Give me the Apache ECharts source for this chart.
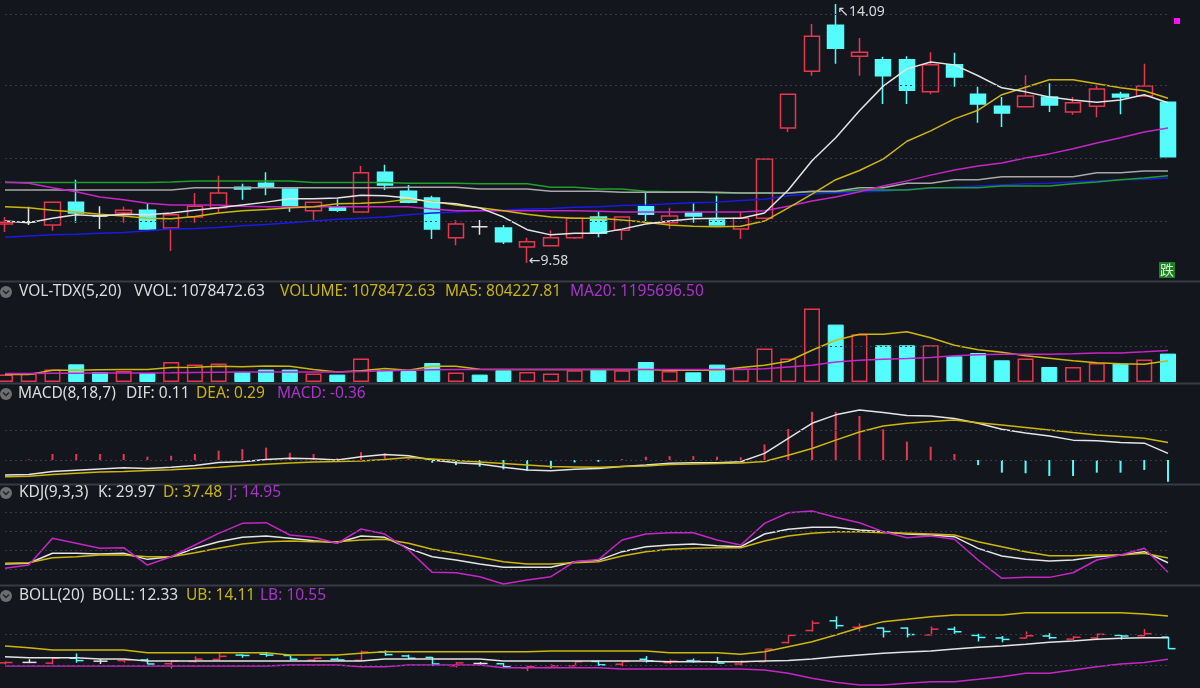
<!DOCTYPE html>
<html><head><meta charset="utf-8">
<script src="https://cdn.jsdelivr.net/npm/echarts@6/dist/echarts.min.js"></script>
<style>html,body{margin:0;padding:0;background:#14161e;}#c{width:1200px;height:688px;}</style>
</head><body><div id="c"></div>
<script>
// ---------------- DATA ----------------
const categories = ['1','2','3','4','5','6','7','8','9','10','11','12','13','14','15','16','17','18','19','20','21','22','23','24','25','26','27','28','29','30','31','32','33','34','35','36','37','38','39','40','41','42','43','44','45','46','47','48','49','50'];
const opens  = [10.26,10.30,10.24,10.64,10.40,10.45,10.50,10.19,10.38,10.54,10.90,10.97,10.87,10.49,10.56,10.47,11.16,10.83,10.71,10.02,10.21,10.19,9.86,9.88,10.02,10.38,10.15,10.56,10.28,10.45,10.33,10.17,10.36,11.93,12.92,13.72,13.18,13.12,13.12,12.56,13.03,12.52,12.31,12.30,12.47,12.21,12.31,12.52,12.49,12.38];
const closes = [10.29,10.30,10.64,10.45,10.40,10.50,10.17,10.42,10.57,10.80,10.87,10.90,10.56,10.64,10.50,11.15,10.94,10.64,10.17,10.26,10.21,9.95,9.95,10.02,10.36,10.10,10.38,10.43,10.40,10.40,10.24,10.36,11.39,12.52,13.53,13.32,13.25,12.84,12.59,13.03,12.82,12.35,12.19,12.49,12.33,12.37,12.61,12.47,12.66,11.43];
const lows   = [10.12,10.24,10.14,10.28,10.17,10.28,10.16,9.79,10.28,10.45,10.68,10.76,10.47,10.33,10.47,10.46,10.85,10.62,10.00,9.89,10.07,9.91,9.58,9.88,10.00,10.03,9.98,10.28,10.17,10.28,10.24,10.00,10.35,11.86,12.84,13.05,12.84,12.35,12.35,12.52,12.65,12.02,11.95,12.29,12.21,12.16,12.12,12.17,12.47,11.42];
const highs  = [10.38,10.56,10.65,11.03,10.57,10.56,10.62,10.43,10.80,11.10,10.96,11.16,10.88,10.65,10.69,11.27,11.29,10.94,10.75,10.33,10.33,10.24,10.02,10.15,10.37,10.47,10.39,10.82,10.54,10.62,10.75,10.47,11.40,12.53,13.74,14.09,13.50,13.17,13.18,13.25,13.24,12.65,12.47,12.85,12.71,12.47,12.68,12.56,13.05,12.39];

const priceMA5  = [10.31,10.28,10.36,10.42,10.40,10.43,10.42,10.45,10.50,10.54,10.59,10.64,10.70,10.70,10.71,10.76,10.75,10.71,10.64,10.61,10.54,10.38,10.16,10.07,10.10,10.10,10.17,10.26,10.31,10.35,10.36,10.36,10.45,10.85,11.36,11.76,12.23,12.66,12.96,13.08,13.03,12.84,12.63,12.56,12.47,12.42,12.38,12.42,12.51,12.37];
const priceMA10 = [10.56,10.54,10.50,10.47,10.43,10.40,10.36,10.35,10.39,10.45,10.49,10.51,10.54,10.56,10.61,10.62,10.64,10.69,10.65,10.59,10.54,10.49,10.43,10.38,10.36,10.36,10.33,10.29,10.24,10.22,10.21,10.22,10.31,10.54,10.78,11.03,11.19,11.39,11.70,11.88,12.09,12.24,12.51,12.64,12.77,12.77,12.70,12.63,12.58,12.45];
const priceMA20 = [10.99,10.97,10.89,10.82,10.73,10.68,10.62,10.59,10.59,10.59,10.57,10.56,10.56,10.56,10.56,10.56,10.56,10.56,10.52,10.49,10.49,10.49,10.49,10.49,10.49,10.48,10.47,10.47,10.47,10.47,10.47,10.47,10.49,10.57,10.66,10.73,10.82,10.92,11.01,11.11,11.20,11.27,11.32,11.41,11.48,11.57,11.67,11.76,11.86,11.93];
const priceMAGray  = [10.85,10.85,10.85,10.85,10.85,10.85,10.85,10.85,10.89,10.89,10.89,10.89,10.89,10.89,10.89,10.89,10.89,10.90,10.90,10.90,10.87,10.87,10.87,10.83,10.83,10.83,10.81,10.81,10.81,10.81,10.81,10.80,10.80,10.80,10.83,10.83,10.89,10.89,10.97,10.97,11.03,11.03,11.08,11.08,11.08,11.08,11.15,11.15,11.18,11.18];
const priceMAGreen = [10.98,10.98,10.98,10.98,10.98,10.98,10.98,10.99,11.01,11.01,11.01,11.01,11.01,10.98,10.98,10.98,10.98,10.97,10.97,10.97,10.96,10.96,10.96,10.90,10.90,10.87,10.87,10.83,10.82,10.82,10.80,10.80,10.80,10.80,10.82,10.82,10.85,10.85,10.85,10.89,10.89,10.89,10.92,10.92,10.92,10.96,10.99,11.03,11.06,11.10];
const priceMABlue  = [10.03,10.05,10.07,10.08,10.10,10.11,10.14,10.17,10.18,10.20,10.23,10.25,10.28,10.31,10.34,10.36,10.38,10.42,10.45,10.47,10.49,10.50,10.52,10.53,10.55,10.56,10.58,10.59,10.61,10.63,10.64,10.67,10.69,10.75,10.78,10.80,10.82,10.83,10.86,10.88,10.90,10.92,10.94,10.96,10.97,10.99,11.01,11.03,11.04,11.06];

const volumes = [281000,319000,471000,672000,380000,418000,342000,760000,661000,699000,380000,471000,471000,319000,281000,889000,444000,418000,722000,357000,281000,444000,380000,319000,444000,471000,444000,760000,418000,368000,661000,509000,1268000,889000,2787000,2180000,1811000,1394000,1394000,1394000,976000,1101000,824000,889000,570000,570000,722000,699000,851000,1078472.63];
const volMA5  = [281000,281000,444000,444000,463000,471000,471000,547000,558000,596000,577000,608000,596000,471000,380000,425000,509000,444000,596000,596000,482000,471000,471000,471000,471000,471000,471000,471000,444000,444000,444000,547000,634000,786000,1204000,1584000,1811000,1811000,1906000,1678000,1394000,1223000,1128000,995000,900000,805000,729000,691000,672000,804227.81];
const volMA20 = [319000,319000,330000,330000,342000,342000,342000,349000,357000,368000,380000,380000,380000,380000,380000,395000,425000,444000,463000,471000,471000,471000,471000,471000,471000,471000,471000,471000,471000,471000,471000,471000,501000,570000,634000,760000,824000,862000,889000,927000,995000,1033000,1052000,1052000,1052000,1071000,1101000,1101000,1147000,1195696.50];

const dif  = [-0.25,-0.24,-0.19,-0.17,-0.15,-0.13,-0.14,-0.12,-0.09,-0.04,-0.03,0.01,0.03,0.02,0.00,0.055,0.09,0.07,0.00,-0.045,-0.065,-0.12,-0.165,-0.18,-0.155,-0.14,-0.11,-0.085,-0.055,-0.045,-0.045,-0.03,0.11,0.36,0.61,0.75,0.83,0.79,0.74,0.73,0.69,0.61,0.51,0.45,0.40,0.33,0.32,0.29,0.28,0.11];
const dea  = [-0.28,-0.27,-0.24,-0.22,-0.20,-0.19,-0.175,-0.16,-0.14,-0.12,-0.09,-0.07,-0.05,-0.035,-0.025,-0.015,0.01,0.04,0.015,-0.01,-0.035,-0.06,-0.085,-0.11,-0.115,-0.12,-0.11,-0.10,-0.075,-0.065,-0.06,-0.05,-0.025,0.08,0.19,0.33,0.465,0.565,0.61,0.64,0.665,0.62,0.58,0.54,0.50,0.455,0.415,0.39,0.36,0.29];
const macd = [0,0.01,0.10,0.10,0.10,0.10,0.055,0.07,0.10,0.155,0.18,0.205,0.12,0.10,0.03,0.13,0.11,0.02,-0.045,-0.085,-0.11,-0.155,-0.18,-0.14,-0.04,-0.03,0.015,0.055,0.065,0.065,0.055,0.045,0.26,0.515,0.80,0.80,0.73,0.51,0.305,0.22,0.10,-0.085,-0.21,-0.22,-0.265,-0.265,-0.21,-0.21,-0.165,-0.36];

const kdjK = [28.0,29.1,44.8,44.8,43.7,44.8,35.3,39.5,52.6,63.1,69.9,72.0,68.3,64.6,61.5,72.0,69.9,52.6,39.5,34.3,28.0,22.8,22.8,22.8,31.7,33.7,47.4,55.2,57.9,59.4,56.8,55.2,75.1,82.5,85.6,85.6,81.4,78.8,75.1,73.6,70.9,52.6,40.6,35.3,32.7,34.3,39.5,42.1,47.4,29.97];
const kdjD = [29.1,30.1,37.9,39.5,42.1,42.1,39.5,39.5,45.8,52.6,59.4,63.1,64.1,63.1,63.1,65.7,66.8,60.5,51.1,44.8,38.5,31.7,28.0,28.0,30.1,31.7,40.6,47.4,51.1,52.6,53.6,53.6,64.1,72.0,76.2,78.8,78.8,77.2,76.2,75.1,73.6,63.1,55.2,47.4,41.0,41.0,42.1,42.1,44.8,37.48];
const kdjJ = [21.2,26.4,68.3,60.5,52.6,53.6,26.4,39.5,57.9,76.2,91.9,92.9,73.6,69.9,60.5,83.0,75.1,50.0,14.9,14.3,8.1,-3.4,2.9,8.1,31.7,35.0,65.7,75.1,77.2,77.2,65.7,57.9,91.9,108.6,111.3,101.3,92.9,78.8,69.3,72.0,66.8,34.3,5.5,7.0,7.0,14.3,34.3,42.1,52.6,14.95];

const bollUB  = [11.65,11.51,11.32,11.32,11.32,11.32,11.10,11.10,11.10,11.10,11.10,11.10,10.91,10.91,10.91,11.05,11.18,11.18,11.18,11.18,11.18,11.18,11.18,11.24,11.24,11.24,11.24,11.24,11.10,11.10,11.10,10.97,11.18,11.59,12.00,12.55,13.15,13.65,13.84,14.06,14.20,14.20,14.20,14.385,14.385,14.385,14.385,14.385,14.28,14.11];
const bollMID = [10.77,10.69,10.69,10.69,10.58,10.58,10.41,10.41,10.41,10.41,10.41,10.41,10.41,10.41,10.41,10.41,10.58,10.58,10.58,10.58,10.58,10.41,10.41,10.41,10.41,10.41,10.41,10.41,10.36,10.36,10.36,10.36,10.41,10.45,10.58,10.77,10.91,11.05,11.15,11.24,11.40,11.54,11.65,11.79,11.95,12.06,12.20,12.28,12.33,12.33];
const bollLB  = [10.0,10.0,10.0,10.0,10.0,10.0,10.0,10.0,10.0,10.0,10.0,10.0,10.09,10.09,10.09,9.95,9.95,10.09,10.09,10.09,10.09,9.86,9.86,9.86,9.86,9.86,9.76,9.76,9.76,9.76,9.76,9.76,9.67,9.40,8.99,8.66,8.44,8.44,8.58,8.71,8.71,8.91,9.12,9.40,9.40,9.67,9.95,10.17,10.30,10.55];

// reference (dotted) levels per panel
const mainLevels = [13.916, 12.672, 11.403, 10.312];
const volLevels  = [1367000];
const macdLevels = [0.487, 0];
const kdjLevels  = [110, 80, 50, 20];
const bollLevels = [12.61, 10.09];

// ---------------- STYLE ----------------
const BG='#14161e', RED='#e8364e', CYAN='#54fcfc', WHITE='#e4e4e4', YEL='#cdb70c', MAG='#c626c6',
      GRN='#1f9f2a', GRY='#a8a8a8', BLU='#1a1ae6', TXTW='#dcdcdc', TXTY='#c8b40a', TXTM='#a834c8';
const FONT = '"Noto Sans", "DejaVu Sans", sans-serif';
const N = categories.length;

// direction of each day: 1 up, -1 down, 0 doji
const dir = opens.map((o,i)=> closes[i]>o ? 1 : closes[i]<o ? -1 : 0);
const volDir = dir.map((d,i)=> d!==0 ? d : (i>0 && closes[i] >= closes[i-1] ? 1 : -1));

const candleData = opens.map((o,i)=>{
  const item = {value:[o, closes[i], lows[i], highs[i]]};
  if (dir[i]===0) item.itemStyle = {color:WHITE,color0:WHITE,borderColor:WHITE,borderColor0:WHITE};
  return item;
});
const volData = volumes.map((v,i)=> volDir[i]>0
  ? {value:v, itemStyle:{color:BG, borderColor:RED, borderWidth:1.5}}
  : {value:v, itemStyle:{color:CYAN, borderColor:CYAN, borderWidth:1}});
const macdData = macd.map(v=>({value:v, itemStyle:{color: v>=0 ? RED : CYAN}}));
const ohlcData = opens.map((o,i)=>[i, o, closes[i], lows[i], highs[i], dir[i]]);

const hiIdx = highs.indexOf(Math.max(...highs));
const loIdx = lows.indexOf(Math.min(...lows));

function levels(arr){
  return {silent:true, symbol:'none', animation:false, label:{show:false},
    lineStyle:{color:'#353a46', type:[2,3], width:1}, data: arr.map(v=>({yAxis:v}))};
}
function line(name, data, color, gi, extra){
  return Object.assign({name, type:'line', data, xAxisIndex:gi, yAxisIndex:gi, symbol:'none', showSymbol:false,
    clip:false, silent:true, lineStyle:{color, width:1.5}, itemStyle:{color}}, extra||{});
}

const grids = [
  {left:5, right:32, top:0,   height:280},
  {left:5, right:32, top:300, height:82},
  {left:5, right:32, top:405, height:78},
  {left:5, right:32, top:500, height:85},
  {left:5, right:32, top:605, height:83}
];
const yRanges = [[9.284,14.1596],[0,3113950],[-0.3821,0.9136],[-4.985,128.55],[8.195,15.018]];

// header texts
const hdrs = [
  [292, [[19,'VOL-TDX(5,20)',TXTW],[134,'VVOL: '+volumes[N-1].toFixed(2),TXTW],[280,'VOLUME: '+volumes[N-1].toFixed(2),TXTY],[445,'MA5: '+volMA5[N-1].toFixed(2),TXTY],[570,'MA20: '+volMA20[N-1].toFixed(2),TXTM]]],
  [394, [[18,'MACD(8,18,7)',TXTW],[126,'DIF: '+dif[N-1].toFixed(2),TXTW],[196,'DEA: '+dea[N-1].toFixed(2),TXTY],[277,'MACD: '+macd[N-1].toFixed(2),TXTM]]],
  [493, [[19,'KDJ(9,3,3)',TXTW],[98,'K: '+kdjK[N-1].toFixed(2),TXTW],[163,'D: '+kdjD[N-1].toFixed(2),TXTY],[229,'J: '+kdjJ[N-1].toFixed(2),TXTM]]],
  [596, [[19,'BOLL(20)',TXTW],[92,'BOLL: '+bollMID[N-1].toFixed(2),TXTW],[186,'UB: '+bollUB[N-1].toFixed(2),TXTY],[260,'LB: '+bollLB[N-1].toFixed(2),TXTM]]]
];
const graphic = [];
[281.5, 383.5, 484.5, 585.5].forEach(y=>{
  graphic.push({type:'line', shape:{x1:0,y1:y,x2:1200,y2:y}, style:{stroke:'#383b44', lineWidth:2}, silent:true});
});
hdrs.forEach(([y, items])=>{
  graphic.push({type:'circle', shape:{cx:6, cy:y, r:6}, style:{fill:'#6e6e72'}, silent:true});
  graphic.push({type:'polyline', shape:{points:[[3,y-1.5],[6,y+1.5],[9,y-1.5]]}, style:{stroke:'#202226', lineWidth:1.5, fill:null}, silent:true});
  items.forEach(([x,t,c])=>{
    graphic.push({type:'text', x, y, silent:true, style:{text:t, fill:c, font:'15.5px '+FONT, verticalAlign:'middle', align:'left'}});
  });
});
graphic.push({type:'rect', shape:{x:1174, y:18, width:6, height:6}, style:{fill:'#ff10ff'}, silent:true});
graphic.push({type:'text', x:1159, y:262, silent:true, style:{text:'跌', fill:'#d8f5d0', font:'14px "Noto Sans CJK SC"',
  backgroundColor:'#1f7f24', padding:[1,1,1,1], align:'left', verticalAlign:'top'}});

const option = {
  backgroundColor: BG,
  animation: false,
  grid: grids,
  xAxis: grids.map((g,i)=>({type:'category', gridIndex:i, data:categories, boundaryGap:false, show:false})),
  yAxis: grids.map((g,i)=>({type:'value', gridIndex:i, min:yRanges[i][0], max:yRanges[i][1], show:false, splitLine:{show:false}})),
  graphic,
  series: [
    {type:'candlestick', name:'K', data:candleData, xAxisIndex:0, yAxisIndex:0, barWidth:16, clip:false, silent:true,
      itemStyle:{color:BG, color0:CYAN, borderColor:RED, borderColor0:CYAN, borderWidth:1.5},
      markLine: levels(mainLevels),
      markPoint:{silent:true, symbol:'circle', symbolSize:1, itemStyle:{color:'rgba(0,0,0,0)'},
        data:[
          {coord:[categories[hiIdx], highs[hiIdx]], label:{show:true, position:'right', distance:1, offset:[0,8], formatter:'↖'+highs[hiIdx].toFixed(2), color:'#d8d8d8', fontSize:14, fontFamily:FONT}},
          {coord:[categories[loIdx], lows[loIdx]], label:{show:true, position:'right', distance:1, offset:[0,-2], formatter:'←'+lows[loIdx].toFixed(2), color:'#d8d8d8', fontSize:14, fontFamily:FONT}}
        ]}},
    line('Blue', priceMABlue, BLU, 0),
    line('Green', priceMAGreen, GRN, 0),
    line('Gray', priceMAGray, GRY, 0),
    line('MA20', priceMA20, MAG, 0),
    line('MA10', priceMA10, YEL, 0),
    line('MA5', priceMA5, WHITE, 0),

    {type:'bar', name:'VOL', data:volData, xAxisIndex:1, yAxisIndex:1, barWidth:16, clip:false, silent:true, markLine: levels(volLevels)},
    line('VMA5', volMA5, YEL, 1),
    line('VMA20', volMA20, MAG, 1),

    {type:'bar', name:'MACD', data:macdData, xAxisIndex:2, yAxisIndex:2, barWidth:2, clip:false, silent:true, markLine: levels(macdLevels)},
    line('DIF', dif, WHITE, 2),
    line('DEA', dea, YEL, 2),

    line('K', kdjK, WHITE, 3, {markLine: levels(kdjLevels)}),
    line('D', kdjD, YEL, 3),
    line('J', kdjJ, MAG, 3),

    line('UB', bollUB, YEL, 4, {markLine: levels(bollLevels)}),
    line('MID', bollMID, WHITE, 4),
    line('LB', bollLB, MAG, 4),
    {type:'custom', name:'OHLC', data:ohlcData, xAxisIndex:4, yAxisIndex:4, clip:false, silent:true,
      encode:{x:0, y:[1,2,3,4]},
      renderItem:function(params, api){
        const i = api.value(0);
        const o = api.coord([i, api.value(1)]);
        const c = api.coord([i, api.value(2)]);
        const l = api.coord([i, api.value(3)]);
        const h = api.coord([i, api.value(4)]);
        const d = api.value(5);
        const col = d>0 ? RED : d<0 ? CYAN : WHITE;
        const x = Math.round(o[0]) + 0.5;
        const st = {stroke:col, lineWidth:1.5};
        return {type:'group', children:[
          {type:'line', shape:{x1:x, y1:h[1], x2:x, y2:l[1]}, style:st},
          {type:'line', shape:{x1:x-7, y1:o[1], x2:x, y2:o[1]}, style:st},
          {type:'line', shape:{x1:x, y1:c[1], x2:x+7, y2:c[1]}, style:st}
        ]};
      }}
  ]
};
const chart = echarts.init(document.getElementById('c'), null, {renderer:'canvas'});
chart.setOption(option);
</script>
</body></html>
